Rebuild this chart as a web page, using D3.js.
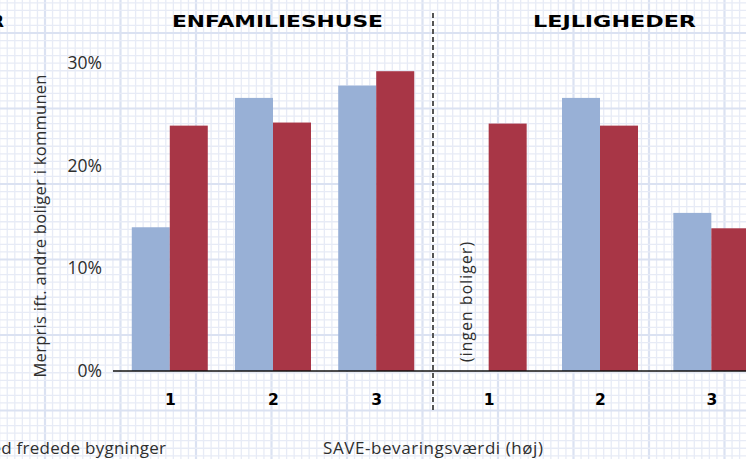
<!DOCTYPE html>
<html>
<head>
<meta charset="utf-8">
<script src="https://cdn.jsdelivr.net/npm/d3@7"></script>
<style>
  body { margin: 0; background: #fff; }
  svg { display: block; }
</style>
</head>
<body>
<script>
// data (percent)
var categories = ["1", "2", "3"];
var enfamilieBlue = [14.0, 26.6, 27.8];
var enfamilieRed = [23.9, 24.2, 29.2];
var lejlighedBlue = [null, 26.6, 15.4]; // no dwellings in category 1
var lejlighedRed = [24.1, 23.9, 13.9];
var yTicks = [0, 10, 20, 30];
var panelTitles = ["ENFAMILIESHUSE", "LEJLIGHEDER"];

var width = 746, height = 459;
var blue = "#98b0d6", red = "#a83646";
var textFont = "Open Sans", textColor = "#2e2e2e";

var svg = d3.select("body").append("svg")
    .attr("width", width)
    .attr("height", height);

// graph paper background
var step = 7.55, gx0 = 45, gy0 = 33;
var grid = svg.append("g");
d3.range(-6, 96).forEach(function(k) {
    var x = gx0 + k * step;
    if (x < -2 || x > width + 2) return;
    grid.append("line")
        .attr("x1", x).attr("x2", x).attr("y1", 0).attr("y2", height)
        .attr("stroke", k % 10 === 0 ? "#dbe2f2" : "#e7ebf6")
        .attr("stroke-width", k % 10 === 0 ? 2.2 : 1.3);
});
d3.range(-5, 60).forEach(function(k) {
    var y = gy0 + k * step;
    if (y < -2 || y > height + 2) return;
    grid.append("line")
        .attr("y1", y).attr("y2", y).attr("x1", 0).attr("x2", width)
        .attr("stroke", k % 10 === 0 ? "#dbe2f2" : "#e7ebf6")
        .attr("stroke-width", k % 10 === 0 ? 2.2 : 1.3);
});

var y = d3.scaleLinear()
    .domain([0, 30])
    .range([371, 63]);

// one point scale per panel
var xLeft = d3.scalePoint().domain(categories).range([113, 433]).padding(0.55);
var xRight = d3.scalePoint().domain(categories).range([433, 767]).padding(0.5);
var barW = 38;

function drawBars(x, blueVals, redVals) {
    var g = svg.append("g");
    g.selectAll(".blue")
        .data(categories.map(function(c, i) { return { c: c, v: blueVals[i] }; })
            .filter(function(d) { return d.v != null; }))
        .enter().append("rect")
        .attr("class", "blue")
        .attr("x", function(d) { return x(d.c) - barW; })
        .attr("width", barW)
        .attr("y", function(d) { return y(d.v); })
        .attr("height", function(d) { return y(0) - y(d.v); })
        .attr("fill", blue);
    g.selectAll(".red")
        .data(categories.map(function(c, i) { return { c: c, v: redVals[i] }; }))
        .enter().append("rect")
        .attr("class", "red")
        .attr("x", function(d) { return x(d.c); })
        .attr("width", barW)
        .attr("y", function(d) { return y(d.v); })
        .attr("height", function(d) { return y(0) - y(d.v); })
        .attr("fill", red);

    var ax = svg.append("g")
        .attr("transform", "translate(0," + y(0) + ")")
        .call(d3.axisBottom(x).tickSize(0).tickPadding(23));
    ax.select(".domain").remove();
    ax.selectAll("text")
        .attr("font-family", "DejaVu Sans")
        .attr("font-weight", "bold")
        .attr("font-size", 15.5)
        .attr("fill", "#000");
}

drawBars(xLeft, enfamilieBlue, enfamilieRed);
drawBars(xRight, lejlighedBlue, lejlighedRed);

// baseline
svg.append("line")
    .attr("x1", 113).attr("x2", width)
    .attr("y1", y(0)).attr("y2", y(0))
    .attr("stroke", "#111").attr("stroke-width", 1.5);

// y axis labels
var yAxis = svg.append("g")
    .attr("transform", "translate(113,0)")
    .call(d3.axisLeft(y).tickValues(yTicks).tickSize(0).tickPadding(11)
        .tickFormat(function(d) { return d + "%"; }));
yAxis.select(".domain").remove();
yAxis.selectAll("text")
    .attr("font-family", textFont)
    .attr("font-size", 17.5)
    .attr("fill", textColor);

// plain text helper, stretched to the width measured on the picture
function label(x, yPos, rot, anchor, size, len, str) {
    return svg.append("text")
        .attr("transform", "translate(" + x + "," + yPos + ")" + (rot ? " rotate(" + rot + ")" : ""))
        .attr("text-anchor", anchor)
        .attr("font-family", textFont)
        .attr("font-size", size)
        .attr("textLength", len)
        .attr("lengthAdjust", "spacing")
        .attr("fill", textColor)
        .text(str);
}

label(46, 226, -90, "middle", 16.5, 303, "Merpris ift. andre boliger i kommunen");
label(472, 302, -90, "middle", 15.5, 120, "(ingen boliger)");
label(166, 454, 0, "end", 17, 190, "Med fredede bygninger");
label(433, 454, 0, "middle", 17, 220, "SAVE-bevaringsværdi (høj)");

// panel divider
svg.append("line")
    .attr("x1", 433).attr("x2", 433)
    .attr("y1", 13).attr("y2", 412)
    .attr("stroke", "#555").attr("stroke-width", 2)
    .attr("stroke-dasharray", "5,3");

// panel titles
[[277.5, 211], [614.5, 163]].forEach(function(p, i) {
    svg.append("text")
        .attr("x", p[0]).attr("y", 27)
        .attr("text-anchor", "middle")
        .attr("font-family", "DejaVu Sans")
        .attr("font-weight", "bold")
        .attr("font-size", 16.5)
        .attr("textLength", p[1])
        .attr("lengthAdjust", "spacingAndGlyphs")
        .attr("fill", "#000")
        .text(panelTitles[i]);
});

// cut-off title from the neighbouring chart
svg.append("text")
    .attr("x", 4).attr("y", 27)
    .attr("text-anchor", "end")
    .attr("font-family", "DejaVu Sans")
    .attr("font-weight", "bold")
    .attr("font-size", 16.5)
    .attr("fill", "#000")
    .text("ER");
</script>
</body>
</html>
